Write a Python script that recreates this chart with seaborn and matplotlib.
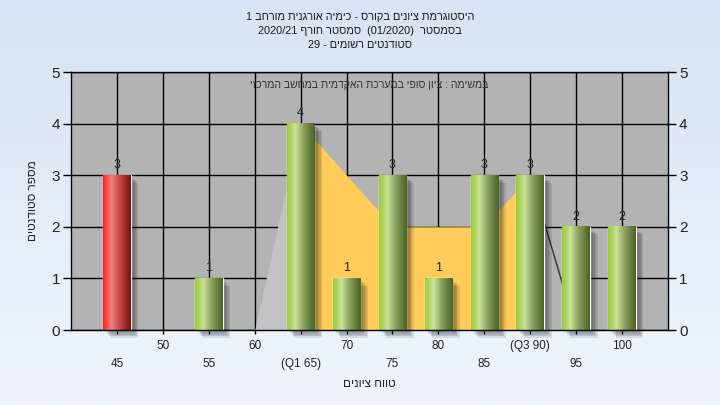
import numpy as np
import pandas as pd
import matplotlib
matplotlib.use('Agg')
import matplotlib.pyplot as plt
import matplotlib.patheffects as pe
from matplotlib.colors import LinearSegmentedColormap
import seaborn as sns

# ציונים (מרכז כל טווח) ומספר הסטודנטים
grades = [45, 55, 65, 70, 75, 80, 85, 90, 95, 100]
counts = [3, 1, 4, 1, 3, 1, 3, 3, 2, 2]
status = ['fail', 'pass', 'pass', 'pass', 'pass', 'pass', 'pass', 'pass', 'pass', 'pass']

# עקומת הרקע (רבעונים)
curve_x = [60, 65, 70, 75, 80, 85, 90, 95]
curve_y = [0, 4, 3, 2, 2, 2, 3, 0]

tick_pos = [45, 50, 55, 60, 65, 70, 75, 80, 85, 90, 95, 100]
tick_labels = ['45', '50', '55', '60', '(Q1 65)', '70', '75', '80', '85', '(Q3 90)', '95', '100']

# טקסט עברי בסדר תצוגה (משמאל לימין)
title_lines = ['1 בחרומ תינגרוא הימיכ - סרוקב םינויצ תמרגוטסיה',
               '2020/21 ףרוח רטסמס  (01/2020)  רטסמסב',
               '29 - םימושר םיטנדוטס']
subtitle = 'יזכרמה בשחמב תימדקאה תכרעמב יפוס ןויצ : המישמב'
xlabel = 'םינויצ חווט'
ylabel = 'םיטנדוטס רפסמ'

sns.set_style('white')
plt.rcParams['font.family'] = ['Liberation Sans', 'DejaVu Sans']

df = pd.DataFrame({'grade': grades, 'count': counts, 'status': status})

fig = plt.figure(figsize=(7.2, 4.05), dpi=100)

# רקע מדורג
bg = fig.add_axes([0, 0, 1, 1], zorder=-10)
bg_cmap = LinearSegmentedColormap.from_list('bg', ['#d8e4f3', '#eef5fd'])
bg.imshow(np.linspace(0, 1, 256).reshape(-1, 1), cmap=bg_cmap, aspect='auto', extent=[0, 1, 0, 1])
bg.axis('off')

ax = fig.add_axes([71 / 720, 75 / 405, 597 / 720, 258 / 405])
ax.set_facecolor('#b3b3b3')
ax.set_axisbelow(True)
ax.grid(True, color='black', linewidth=1)

# אזורי הרבעונים
ax.fill_between(curve_x[0:2], curve_y[0:2], color='#c3c3c3', linewidth=0, zorder=1)
ax.fill_between(curve_x[1:7], curve_y[1:7], color='#ffcc5a', linewidth=0, zorder=1)
ax.fill_between(curve_x[6:8], curve_y[6:8], color='#b3b3b3', linewidth=0, zorder=1)
ax.plot(curve_x[6:8], curve_y[6:8], color='#333333', linewidth=1, zorder=1.1)

sns.barplot(data=df, x='grade', y='count', hue='status', native_scale=True, dodge=False,
            palette={'fail': '#e02020', 'pass': '#8fba3c'}, width=0.6, legend=False,
            errorbar=None, ax=ax, zorder=2)

stops = {'fail': ['#ff1c1c', '#ff4848', '#f28080', '#c84848', '#7a0e0e'],
         'pass': ['#9acc3a', '#acd25a', '#cbe398', '#8aa060', '#4a6422']}
pos = [0, 0.12, 0.3, 0.6, 1.0]
# צל מטושטש: כמה שכבות שקופות
shadow = [pe.SimplePatchShadow(offset=(d, -d), shadow_rgbFace='black', alpha=0.1)
          for d in (1.5, 2.5, 3.5, 4.5, 5.5)] + [pe.Normal()]
for container in ax.containers:
    for bar in container:
        h = bar.get_height()
        if np.isnan(h) or h == 0:
            continue
        key = 'fail' if bar.get_facecolor()[0] > 0.7 else 'pass'
        cmap = LinearSegmentedColormap.from_list(key, list(zip(pos, stops[key])))
        bar.set_path_effects(shadow)
        bar.set_clip_on(False)
        x0, w = bar.get_x(), bar.get_width()
        ax.imshow(np.linspace(0, 1, 64).reshape(1, -1), cmap=cmap, aspect='auto',
                  extent=[x0, x0 + w, 0, h], zorder=2.2, interpolation='bilinear')
    ax.bar_label(container, padding=3, fontsize=9, color='#222222', zorder=4)

ax.set_xlim(40, 105)
ax.set_ylim(0, 5)
ax.set_xticks(tick_pos)
labels = [lab if p % 10 == 0 else '\n' + lab for p, lab in zip(tick_pos, tick_labels)]
ax.set_xticklabels(labels, fontsize=8.5, color='#222222')
for t in ax.get_xticklabels():
    t.set_linespacing(1.7)
ax.set_yticks(range(6))
ax.tick_params(axis='x', length=3, width=1, color='black', pad=4, bottom=True)
ax.tick_params(axis='y', length=6, width=1, color='black', labelsize=11, labelcolor='#222222',
               left=True, right=True, labelleft=True, labelright=True, pad=2)
for s in ax.spines.values():
    s.set_color('black')
    s.set_linewidth(1)
    s.set_zorder(5)

ax.set_xlabel(xlabel, fontsize=8.5, color='#222222', labelpad=6)
ax.set_ylabel(ylabel, fontsize=8.5, color='#222222', labelpad=9)
ax.text(0.5, 0.95, subtitle, transform=ax.transAxes, ha='center', va='center',
        fontsize=7.6, color='#333333', zorder=5)

for i, line in enumerate(title_lines):
    fig.text(0.5, 1 - (17 + 14 * i) / 405, line, ha='center', va='center',
             fontsize=7.9, color='#1a1a1a')

fig.savefig('out.png', dpi=100)
